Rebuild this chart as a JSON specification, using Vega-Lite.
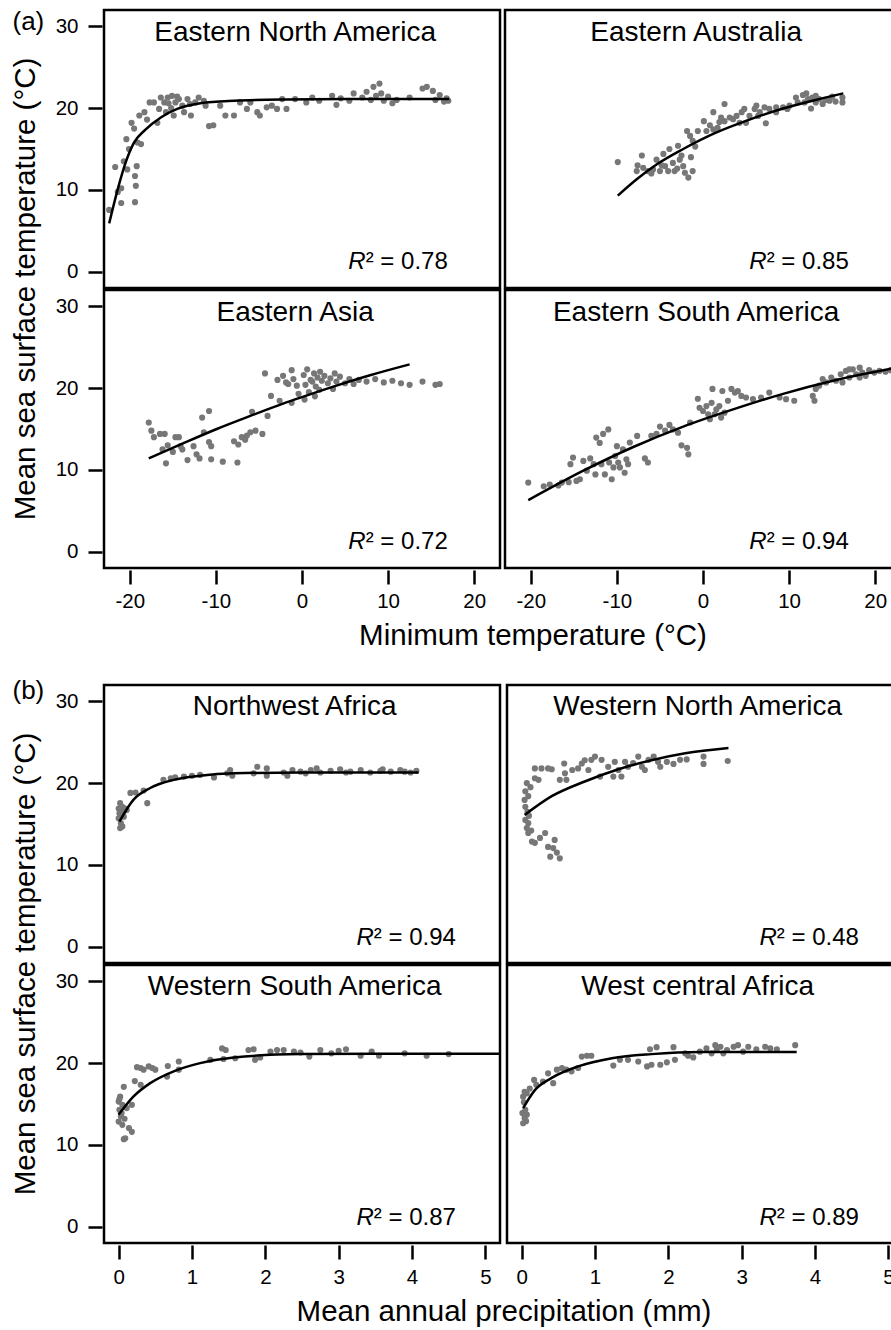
{
"$schema": "https://vega.github.io/schema/vega-lite/v6.json",
"background": "white",
"padding": {"left": 10, "top": 8, "right": 0, "bottom": 0},
"spacing": 27,
"title": {"text": "(a)", "anchor": "start", "frame": "bounds", "orient": "top", "offset": -26, "dx": 2, "fontSize": 26},
"config": {
 "font": "Liberation Sans",
 "view": {"stroke": "#000", "strokeWidth": 2.5},
 "axis": {"domain": false, "grid": false, "tickSize": 14, "tickWidth": 2.5, "tickColor": "#000", "labelFontSize": 20.5, "labelColor": "#000", "labelFont": "Liberation Sans", "labelFlush": false, "labelOverlap": false},
 "header": {"labels": false, "titleFontSize": 29.5, "titleFontWeight": "normal", "titleColor": "#000", "titleFont": "Liberation Sans"},
 "title": {"fontSize": 26, "fontWeight": "normal", "color": "#000", "font": "Liberation Sans"}
},
"datasets": {
 "panels": [
  {"g":"ENA","r":1,"c":1,"t":"Eastern North America","s":"² = 0.78"},
  {"g":"EAu","r":1,"c":2,"t":"Eastern Australia","s":"² = 0.85"},
  {"g":"EAs","r":2,"c":1,"t":"Eastern Asia","s":"² = 0.72"},
  {"g":"ESA","r":2,"c":2,"t":"Eastern South America","s":"² = 0.94"},
  {"g":"NWA","r":1,"c":1,"t":"Northwest Africa","s":"² = 0.94"},
  {"g":"WNA","r":1,"c":2,"t":"Western North America","s":"² = 0.48"},
  {"g":"WSA","r":2,"c":1,"t":"Western South America","s":"² = 0.87"},
  {"g":"WCA","r":2,"c":2,"t":"West central Africa","s":"² = 0.89"}
 ],
 "a": [
  {"g":"ENA","k":"l"},{"g":"EAu","k":"l"},{"g":"EAs","k":"l"},{"g":"ESA","k":"l"},
  {"g":"ENA","k":"f","x":-22.4,"y":5.9},{"g":"ENA","k":"f","x":-21.4,"y":10.1},{"g":"ENA","k":"f","x":-20.5,"y":13.3},{"g":"ENA","k":"f","x":-19.5,"y":15.8},{"g":"ENA","k":"f","x":-18.15,"y":17.4},{"g":"ENA","k":"f","x":-16.4,"y":18.85},{"g":"ENA","k":"f","x":-14.5,"y":19.9},{"g":"ENA","k":"f","x":-11.8,"y":20.6},{"g":"ENA","k":"f","x":-7.9,"y":20.9},{"g":"ENA","k":"f","x":-2,"y":21.05},{"g":"ENA","k":"f","x":5,"y":21.1},{"g":"ENA","k":"f","x":17.1,"y":21.1},
  {"g":"EAu","k":"f","x":-9.9,"y":9.3},{"g":"EAu","k":"f","x":-7.7,"y":11.3},{"g":"EAu","k":"f","x":-5.4,"y":13.1},{"g":"EAu","k":"f","x":-2.3,"y":15.0},{"g":"EAu","k":"f","x":1.5,"y":17.0},{"g":"EAu","k":"f","x":5.4,"y":18.6},{"g":"EAu","k":"f","x":9.3,"y":19.95},{"g":"EAu","k":"f","x":13.1,"y":21.0},{"g":"EAu","k":"f","x":16.3,"y":21.8},
  {"g":"EAs","k":"f","x":-17.8,"y":11.4},{"g":"EAs","k":"f","x":-13.7,"y":13.3},{"g":"EAs","k":"f","x":-9.9,"y":15.0},{"g":"EAs","k":"f","x":-6.0,"y":16.6},{"g":"EAs","k":"f","x":-2.2,"y":18.1},{"g":"EAs","k":"f","x":0,"y":18.9},{"g":"EAs","k":"f","x":4,"y":20.3},{"g":"EAs","k":"f","x":8,"y":21.6},{"g":"EAs","k":"f","x":12.5,"y":22.9},
  {"g":"ESA","k":"f","x":-20.3,"y":6.3},{"g":"ESA","k":"f","x":-13.9,"y":9.9},{"g":"ESA","k":"f","x":-8.1,"y":12.8},{"g":"ESA","k":"f","x":-2.3,"y":15.3},{"g":"ESA","k":"f","x":3.5,"y":17.4},{"g":"ESA","k":"f","x":9.3,"y":19.3},{"g":"ESA","k":"f","x":15.1,"y":20.9},{"g":"ESA","k":"f","x":22.8,"y":22.55},
  {"g":"ENA","k":"p","x":-22.4,"y":7.55},{"g":"ENA","k":"p","x":-21.7,"y":12.8},{"g":"ENA","k":"p","x":-21.4,"y":9.75},{"g":"ENA","k":"p","x":-21.0,"y":8.4},{"g":"ENA","k":"p","x":-21.0,"y":10.2},{"g":"ENA","k":"p","x":-20.7,"y":13.5},{"g":"ENA","k":"p","x":-20.4,"y":16.2},{"g":"ENA","k":"p","x":-20.1,"y":15.0},{"g":"ENA","k":"p","x":-20.3,"y":12.5},{"g":"ENA","k":"p","x":-19.8,"y":18.2},{"g":"ENA","k":"p","x":-19.5,"y":17.5},{"g":"ENA","k":"p","x":-19.4,"y":8.5},{"g":"ENA","k":"p","x":-19.4,"y":11.7},{"g":"ENA","k":"p","x":-19.3,"y":10.5},{"g":"ENA","k":"p","x":-19.2,"y":12.9},{"g":"ENA","k":"p","x":-19.1,"y":15.8},{"g":"ENA","k":"p","x":-18.7,"y":15.6},{"g":"ENA","k":"p","x":-18.9,"y":19.1},{"g":"ENA","k":"p","x":-18.3,"y":19.5},{"g":"ENA","k":"p","x":-18.0,"y":18.6},{"g":"ENA","k":"p","x":-17.7,"y":20.7},{"g":"ENA","k":"p","x":-17.2,"y":20.7},{"g":"ENA","k":"p","x":-16.8,"y":18.2},{"g":"ENA","k":"p","x":-16.6,"y":19.9},{"g":"ENA","k":"p","x":-16.4,"y":21.3},{"g":"ENA","k":"p","x":-16.0,"y":20.7},{"g":"ENA","k":"p","x":-15.8,"y":19.5},{"g":"ENA","k":"p","x":-15.6,"y":21.3},{"g":"ENA","k":"p","x":-15.5,"y":20.6},{"g":"ENA","k":"p","x":-15.1,"y":21.5},{"g":"ENA","k":"p","x":-15.2,"y":20.0},{"g":"ENA","k":"p","x":-14.9,"y":19.1},{"g":"ENA","k":"p","x":-14.7,"y":20.7},{"g":"ENA","k":"p","x":-14.5,"y":21.4},{"g":"ENA","k":"p","x":-14.3,"y":21.1},{"g":"ENA","k":"p","x":-13.9,"y":20.3},{"g":"ENA","k":"p","x":-13.7,"y":19.5},{"g":"ENA","k":"p","x":-13.3,"y":21.1},{"g":"ENA","k":"p","x":-13.0,"y":20.5},{"g":"ENA","k":"p","x":-12.9,"y":19.1},{"g":"ENA","k":"p","x":-12.4,"y":20.7},{"g":"ENA","k":"p","x":-12.0,"y":21.3},{"g":"ENA","k":"p","x":-11.4,"y":20.9},{"g":"ENA","k":"p","x":-11.2,"y":20.3},{"g":"ENA","k":"p","x":-10.8,"y":17.8},{"g":"ENA","k":"p","x":-10.3,"y":17.9},{"g":"ENA","k":"p","x":-9.5,"y":20.3},{"g":"ENA","k":"p","x":-8.9,"y":19.1},{"g":"ENA","k":"p","x":-7.9,"y":19.1},{"g":"ENA","k":"p","x":-7.2,"y":20.7},{"g":"ENA","k":"p","x":-6.4,"y":19.9},{"g":"ENA","k":"p","x":-6.0,"y":20.7},{"g":"ENA","k":"p","x":-5.2,"y":19.5},{"g":"ENA","k":"p","x":-4.9,"y":19.1},{"g":"ENA","k":"p","x":-4.1,"y":20.1},{"g":"ENA","k":"p","x":-3.5,"y":20.3},{"g":"ENA","k":"p","x":-2.9,"y":19.9},{"g":"ENA","k":"p","x":-2.3,"y":21.1},{"g":"ENA","k":"p","x":-1.8,"y":19.9},{"g":"ENA","k":"p","x":-0.8,"y":21.1},{"g":"ENA","k":"p","x":0.5,"y":20.7},{"g":"ENA","k":"p","x":1.2,"y":21.3},{"g":"ENA","k":"p","x":2.0,"y":20.9},{"g":"ENA","k":"p","x":3.5,"y":21.5},{"g":"ENA","k":"p","x":4.0,"y":20.4},{"g":"ENA","k":"p","x":4.5,"y":21.2},{"g":"ENA","k":"p","x":5.5,"y":20.9},{"g":"ENA","k":"p","x":6.0,"y":21.8},{"g":"ENA","k":"p","x":7.0,"y":21.3},{"g":"ENA","k":"p","x":7.5,"y":22.0},{"g":"ENA","k":"p","x":8.0,"y":21.0},{"g":"ENA","k":"p","x":8.3,"y":22.6},{"g":"ENA","k":"p","x":8.6,"y":21.5},{"g":"ENA","k":"p","x":9.0,"y":23.0},{"g":"ENA","k":"p","x":9.2,"y":21.8},{"g":"ENA","k":"p","x":9.5,"y":20.9},{"g":"ENA","k":"p","x":10.0,"y":21.4},{"g":"ENA","k":"p","x":10.5,"y":20.6},{"g":"ENA","k":"p","x":11.0,"y":21.0},{"g":"ENA","k":"p","x":12.5,"y":21.3},{"g":"ENA","k":"p","x":14.0,"y":22.4},{"g":"ENA","k":"p","x":14.5,"y":22.6},{"g":"ENA","k":"p","x":15.2,"y":22.1},{"g":"ENA","k":"p","x":15.5,"y":21.0},{"g":"ENA","k":"p","x":16.0,"y":21.6},{"g":"ENA","k":"p","x":16.5,"y":20.8},{"g":"ENA","k":"p","x":16.8,"y":21.2},{"g":"ENA","k":"p","x":17.0,"y":20.9},
  {"g":"EAu","k":"p","x":-9.9,"y":13.4},{"g":"EAu","k":"p","x":-7.1,"y":14.2},{"g":"EAu","k":"p","x":-7.6,"y":13.0},{"g":"EAu","k":"p","x":-7.7,"y":12.3},{"g":"EAu","k":"p","x":-6.95,"y":12.7},{"g":"EAu","k":"p","x":-6.4,"y":12.3},{"g":"EAu","k":"p","x":-5.8,"y":12.5},{"g":"EAu","k":"p","x":-5.4,"y":13.7},{"g":"EAu","k":"p","x":-5.0,"y":12.3},{"g":"EAu","k":"p","x":-4.6,"y":14.4},{"g":"EAu","k":"p","x":-4.4,"y":12.9},{"g":"EAu","k":"p","x":-4.05,"y":12.3},{"g":"EAu","k":"p","x":-3.9,"y":15.0},{"g":"EAu","k":"p","x":-3.5,"y":13.3},{"g":"EAu","k":"p","x":-3.3,"y":12.3},{"g":"EAu","k":"p","x":-2.9,"y":15.4},{"g":"EAu","k":"p","x":-2.7,"y":13.7},{"g":"EAu","k":"p","x":-2.3,"y":12.9},{"g":"EAu","k":"p","x":-2.1,"y":12.1},{"g":"EAu","k":"p","x":-1.7,"y":11.5},{"g":"EAu","k":"p","x":-1.4,"y":14.0},{"g":"EAu","k":"p","x":-1.2,"y":12.3},{"g":"EAu","k":"p","x":-1.85,"y":17.2},{"g":"EAu","k":"p","x":-1.5,"y":16.6},{"g":"EAu","k":"p","x":-1.2,"y":16.0},{"g":"EAu","k":"p","x":-0.6,"y":17.2},{"g":"EAu","k":"p","x":0.1,"y":18.4},{"g":"EAu","k":"p","x":0.4,"y":17.2},{"g":"EAu","k":"p","x":1.2,"y":19.5},{"g":"EAu","k":"p","x":1.2,"y":17.4},{"g":"EAu","k":"p","x":1.7,"y":17.6},{"g":"EAu","k":"p","x":2.1,"y":18.85},{"g":"EAu","k":"p","x":2.5,"y":20.5},{"g":"EAu","k":"p","x":2.5,"y":18.4},{"g":"EAu","k":"p","x":3.1,"y":18.85},{"g":"EAu","k":"p","x":3.5,"y":18.65},{"g":"EAu","k":"p","x":3.9,"y":19.05},{"g":"EAu","k":"p","x":4.25,"y":18.2},{"g":"EAu","k":"p","x":4.8,"y":19.9},{"g":"EAu","k":"p","x":5.0,"y":18.2},{"g":"EAu","k":"p","x":5.4,"y":19.05},{"g":"EAu","k":"p","x":6.0,"y":19.9},{"g":"EAu","k":"p","x":6.2,"y":20.3},{"g":"EAu","k":"p","x":6.6,"y":19.5},{"g":"EAu","k":"p","x":7.15,"y":20.1},{"g":"EAu","k":"p","x":7.3,"y":18.15},{"g":"EAu","k":"p","x":7.7,"y":19.9},{"g":"EAu","k":"p","x":8.5,"y":20.1},{"g":"EAu","k":"p","x":9.3,"y":20.1},{"g":"EAu","k":"p","x":10.05,"y":20.3},{"g":"EAu","k":"p","x":10.8,"y":21.3},{"g":"EAu","k":"p","x":11.0,"y":20.7},{"g":"EAu","k":"p","x":11.6,"y":21.6},{"g":"EAu","k":"p","x":11.8,"y":20.7},{"g":"EAu","k":"p","x":12.2,"y":21.1},{"g":"EAu","k":"p","x":12.55,"y":19.95},{"g":"EAu","k":"p","x":12.7,"y":21.3},{"g":"EAu","k":"p","x":13.1,"y":20.7},{"g":"EAu","k":"p","x":13.5,"y":21.1},{"g":"EAu","k":"p","x":13.9,"y":20.5},{"g":"EAu","k":"p","x":14.7,"y":20.9},{"g":"EAu","k":"p","x":15.4,"y":20.8},{"g":"EAu","k":"p","x":16.2,"y":20.7},{"g":"EAu","k":"p","x":16.2,"y":21.3},{"g":"EAu","k":"p","x":13.1,"y":21.5},{"g":"EAu","k":"p","x":8.5,"y":19.5},{"g":"EAu","k":"p","x":6.4,"y":19.05},{"g":"EAu","k":"p","x":-6.0,"y":12.0},{"g":"EAu","k":"p","x":-4.8,"y":13.0},{"g":"EAu","k":"p","x":-3.0,"y":12.6},{"g":"EAu","k":"p","x":-2.5,"y":14.2},{"g":"EAu","k":"p","x":-0.9,"y":15.3},{"g":"EAu","k":"p","x":0.8,"y":17.9},{"g":"EAu","k":"p","x":1.9,"y":18.3},{"g":"EAu","k":"p","x":4.5,"y":19.5},{"g":"EAu","k":"p","x":9.8,"y":19.9},{"g":"EAu","k":"p","x":12.0,"y":21.8},{"g":"EAu","k":"p","x":14.2,"y":21.0},{"g":"EAu","k":"p","x":15.0,"y":21.4},
  {"g":"EAs","k":"p","x":-17.8,"y":15.8},{"g":"EAs","k":"p","x":-17.5,"y":14.8},{"g":"EAs","k":"p","x":-17.2,"y":14.0},{"g":"EAs","k":"p","x":-16.5,"y":14.4},{"g":"EAs","k":"p","x":-15.95,"y":14.4},{"g":"EAs","k":"p","x":-16.2,"y":12.5},{"g":"EAs","k":"p","x":-15.8,"y":10.8},{"g":"EAs","k":"p","x":-15.6,"y":13.0},{"g":"EAs","k":"p","x":-15.0,"y":12.2},{"g":"EAs","k":"p","x":-14.7,"y":14.0},{"g":"EAs","k":"p","x":-14.3,"y":14.0},{"g":"EAs","k":"p","x":-14.1,"y":12.9},{"g":"EAs","k":"p","x":-13.9,"y":12.5},{"g":"EAs","k":"p","x":-13.3,"y":11.2},{"g":"EAs","k":"p","x":-12.6,"y":12.9},{"g":"EAs","k":"p","x":-12.25,"y":11.9},{"g":"EAs","k":"p","x":-11.9,"y":11.4},{"g":"EAs","k":"p","x":-11.6,"y":16.4},{"g":"EAs","k":"p","x":-11.4,"y":14.6},{"g":"EAs","k":"p","x":-10.8,"y":17.2},{"g":"EAs","k":"p","x":-10.8,"y":13.4},{"g":"EAs","k":"p","x":-10.55,"y":11.3},{"g":"EAs","k":"p","x":-10.55,"y":12.9},{"g":"EAs","k":"p","x":-9.2,"y":11.0},{"g":"EAs","k":"p","x":-7.9,"y":13.5},{"g":"EAs","k":"p","x":-7.5,"y":10.9},{"g":"EAs","k":"p","x":-7.4,"y":13.1},{"g":"EAs","k":"p","x":-7.0,"y":14.0},{"g":"EAs","k":"p","x":-6.6,"y":13.7},{"g":"EAs","k":"p","x":-6.4,"y":14.2},{"g":"EAs","k":"p","x":-6.0,"y":14.6},{"g":"EAs","k":"p","x":-5.8,"y":17.1},{"g":"EAs","k":"p","x":-5.4,"y":14.8},{"g":"EAs","k":"p","x":-4.6,"y":14.4},{"g":"EAs","k":"p","x":-4.3,"y":21.8},{"g":"EAs","k":"p","x":-4.0,"y":16.6},{"g":"EAs","k":"p","x":-3.6,"y":19.05},{"g":"EAs","k":"p","x":-2.85,"y":21.0},{"g":"EAs","k":"p","x":-2.6,"y":18.45},{"g":"EAs","k":"p","x":-2.2,"y":21.5},{"g":"EAs","k":"p","x":-1.85,"y":20.7},{"g":"EAs","k":"p","x":-1.6,"y":20.5},{"g":"EAs","k":"p","x":-1.2,"y":22.2},{"g":"EAs","k":"p","x":-1.2,"y":18.2},{"g":"EAs","k":"p","x":-1.0,"y":21.1},{"g":"EAs","k":"p","x":-0.6,"y":20.3},{"g":"EAs","k":"p","x":-0.4,"y":19.3},{"g":"EAs","k":"p","x":0.2,"y":21.6},{"g":"EAs","k":"p","x":0.4,"y":20.4},{"g":"EAs","k":"p","x":0.6,"y":22.3},{"g":"EAs","k":"p","x":0.8,"y":19.5},{"g":"EAs","k":"p","x":1.0,"y":21.0},{"g":"EAs","k":"p","x":1.2,"y":20.8},{"g":"EAs","k":"p","x":1.4,"y":21.8},{"g":"EAs","k":"p","x":1.6,"y":20.2},{"g":"EAs","k":"p","x":1.8,"y":21.3},{"g":"EAs","k":"p","x":2.0,"y":19.8},{"g":"EAs","k":"p","x":2.1,"y":22.0},{"g":"EAs","k":"p","x":2.3,"y":20.9},{"g":"EAs","k":"p","x":2.6,"y":21.5},{"g":"EAs","k":"p","x":3.0,"y":20.6},{"g":"EAs","k":"p","x":3.3,"y":21.2},{"g":"EAs","k":"p","x":3.6,"y":19.9},{"g":"EAs","k":"p","x":3.8,"y":21.8},{"g":"EAs","k":"p","x":4.0,"y":20.8},{"g":"EAs","k":"p","x":4.4,"y":21.4},{"g":"EAs","k":"p","x":5.0,"y":20.6},{"g":"EAs","k":"p","x":5.5,"y":21.1},{"g":"EAs","k":"p","x":6.0,"y":20.5},{"g":"EAs","k":"p","x":6.6,"y":21.0},{"g":"EAs","k":"p","x":7.5,"y":20.8},{"g":"EAs","k":"p","x":8.5,"y":21.1},{"g":"EAs","k":"p","x":9.5,"y":20.7},{"g":"EAs","k":"p","x":10.5,"y":20.9},{"g":"EAs","k":"p","x":11.5,"y":20.6},{"g":"EAs","k":"p","x":12.5,"y":20.4},{"g":"EAs","k":"p","x":0.3,"y":18.6},{"g":"EAs","k":"p","x":1.5,"y":19.0},{"g":"EAs","k":"p","x":14.0,"y":20.8},{"g":"EAs","k":"p","x":15.5,"y":20.4},{"g":"EAs","k":"p","x":16.0,"y":20.5},
  {"g":"ESA","k":"p","x":-20.3,"y":8.45},{"g":"ESA","k":"p","x":-18.5,"y":8.0},{"g":"ESA","k":"p","x":-17.8,"y":8.2},{"g":"ESA","k":"p","x":-16.8,"y":8.1},{"g":"ESA","k":"p","x":-16.4,"y":8.45},{"g":"ESA","k":"p","x":-15.6,"y":8.5},{"g":"ESA","k":"p","x":-15.4,"y":10.7},{"g":"ESA","k":"p","x":-15.1,"y":11.5},{"g":"ESA","k":"p","x":-14.7,"y":8.65},{"g":"ESA","k":"p","x":-14.3,"y":8.85},{"g":"ESA","k":"p","x":-13.9,"y":11.1},{"g":"ESA","k":"p","x":-13.5,"y":9.9},{"g":"ESA","k":"p","x":-13.1,"y":11.4},{"g":"ESA","k":"p","x":-12.7,"y":10.7},{"g":"ESA","k":"p","x":-12.5,"y":9.45},{"g":"ESA","k":"p","x":-12.4,"y":13.95},{"g":"ESA","k":"p","x":-12.0,"y":13.3},{"g":"ESA","k":"p","x":-11.8,"y":10.7},{"g":"ESA","k":"p","x":-11.6,"y":14.4},{"g":"ESA","k":"p","x":-11.4,"y":9.45},{"g":"ESA","k":"p","x":-11.0,"y":14.95},{"g":"ESA","k":"p","x":-10.9,"y":10.9},{"g":"ESA","k":"p","x":-10.6,"y":8.85},{"g":"ESA","k":"p","x":-10.4,"y":10.3},{"g":"ESA","k":"p","x":-10.2,"y":11.7},{"g":"ESA","k":"p","x":-10.0,"y":12.9},{"g":"ESA","k":"p","x":-9.85,"y":10.9},{"g":"ESA","k":"p","x":-9.65,"y":10.3},{"g":"ESA","k":"p","x":-9.3,"y":12.5},{"g":"ESA","k":"p","x":-9.1,"y":9.65},{"g":"ESA","k":"p","x":-8.9,"y":11.3},{"g":"ESA","k":"p","x":-8.7,"y":10.7},{"g":"ESA","k":"p","x":-8.5,"y":13.35},{"g":"ESA","k":"p","x":-7.65,"y":14.15},{"g":"ESA","k":"p","x":-6.75,"y":11.4},{"g":"ESA","k":"p","x":-6.4,"y":10.9},{"g":"ESA","k":"p","x":-6.0,"y":14.15},{"g":"ESA","k":"p","x":-5.4,"y":14.4},{"g":"ESA","k":"p","x":-5.0,"y":15.3},{"g":"ESA","k":"p","x":-4.4,"y":14.8},{"g":"ESA","k":"p","x":-3.9,"y":15.5},{"g":"ESA","k":"p","x":-3.5,"y":14.95},{"g":"ESA","k":"p","x":-2.9,"y":14.55},{"g":"ESA","k":"p","x":-2.5,"y":13.0},{"g":"ESA","k":"p","x":-1.85,"y":12.7},{"g":"ESA","k":"p","x":-1.7,"y":11.9},{"g":"ESA","k":"p","x":-1.5,"y":15.8},{"g":"ESA","k":"p","x":-0.6,"y":18.7},{"g":"ESA","k":"p","x":-0.4,"y":17.6},{"g":"ESA","k":"p","x":0.0,"y":17.2},{"g":"ESA","k":"p","x":0.4,"y":17.8},{"g":"ESA","k":"p","x":0.6,"y":16.8},{"g":"ESA","k":"p","x":0.8,"y":16.2},{"g":"ESA","k":"p","x":1.0,"y":18.2},{"g":"ESA","k":"p","x":1.1,"y":19.9},{"g":"ESA","k":"p","x":1.35,"y":16.8},{"g":"ESA","k":"p","x":1.55,"y":17.4},{"g":"ESA","k":"p","x":1.9,"y":17.8},{"g":"ESA","k":"p","x":2.1,"y":16.4},{"g":"ESA","k":"p","x":2.25,"y":19.65},{"g":"ESA","k":"p","x":2.5,"y":17.0},{"g":"ESA","k":"p","x":2.9,"y":18.45},{"g":"ESA","k":"p","x":3.3,"y":19.9},{"g":"ESA","k":"p","x":3.7,"y":19.45},{"g":"ESA","k":"p","x":4.05,"y":19.65},{"g":"ESA","k":"p","x":4.45,"y":19.05},{"g":"ESA","k":"p","x":5.0,"y":18.85},{"g":"ESA","k":"p","x":5.8,"y":18.65},{"g":"ESA","k":"p","x":6.75,"y":18.85},{"g":"ESA","k":"p","x":7.7,"y":19.45},{"g":"ESA","k":"p","x":8.9,"y":18.85},{"g":"ESA","k":"p","x":9.65,"y":18.65},{"g":"ESA","k":"p","x":10.6,"y":18.45},{"g":"ESA","k":"p","x":12.75,"y":19.05},{"g":"ESA","k":"p","x":12.95,"y":18.45},{"g":"ESA","k":"p","x":13.1,"y":19.9},{"g":"ESA","k":"p","x":13.5,"y":20.3},{"g":"ESA","k":"p","x":13.9,"y":21.1},{"g":"ESA","k":"p","x":14.3,"y":20.7},{"g":"ESA","k":"p","x":14.9,"y":21.3},{"g":"ESA","k":"p","x":15.45,"y":20.9},{"g":"ESA","k":"p","x":16.0,"y":21.7},{"g":"ESA","k":"p","x":16.2,"y":20.7},{"g":"ESA","k":"p","x":16.6,"y":22.1},{"g":"ESA","k":"p","x":17.0,"y":21.3},{"g":"ESA","k":"p","x":17.4,"y":22.3},{"g":"ESA","k":"p","x":17.8,"y":21.7},{"g":"ESA","k":"p","x":18.2,"y":22.5},{"g":"ESA","k":"p","x":18.5,"y":21.9},{"g":"ESA","k":"p","x":18.9,"y":21.5},{"g":"ESA","k":"p","x":19.3,"y":22.2},{"g":"ESA","k":"p","x":19.9,"y":21.9},{"g":"ESA","k":"p","x":20.5,"y":22.1},{"g":"ESA","k":"p","x":21.2,"y":22.0},{"g":"ESA","k":"p","x":21.8,"y":22.2},{"g":"ESA","k":"p","x":17.0,"y":22.3},{"g":"ESA","k":"p","x":18.2,"y":21.3}
 ],
 "b": [
  {"g":"NWA","k":"l"},{"g":"WNA","k":"l"},{"g":"WSA","k":"l"},{"g":"WCA","k":"l"},
  {"g":"NWA","k":"f","x":0.01,"y":15.3},{"g":"NWA","k":"f","x":0.2,"y":17.95},{"g":"NWA","k":"f","x":0.43,"y":19.4},{"g":"NWA","k":"f","x":0.75,"y":20.4},{"g":"NWA","k":"f","x":1.11,"y":20.9},{"g":"NWA","k":"f","x":1.57,"y":21.2},{"g":"NWA","k":"f","x":2.5,"y":21.3},{"g":"NWA","k":"f","x":4.09,"y":21.3},
  {"g":"WNA","k":"f","x":0.04,"y":16.1},{"g":"WNA","k":"f","x":0.41,"y":18.4},{"g":"WNA","k":"f","x":0.86,"y":20.2},{"g":"WNA","k":"f","x":1.32,"y":21.7},{"g":"WNA","k":"f","x":1.77,"y":22.8},{"g":"WNA","k":"f","x":2.23,"y":23.65},{"g":"WNA","k":"f","x":2.82,"y":24.3},
  {"g":"WSA","k":"f","x":0,"y":13.7},{"g":"WSA","k":"f","x":0.2,"y":15.9},{"g":"WSA","k":"f","x":0.43,"y":17.55},{"g":"WSA","k":"f","x":0.75,"y":19.0},{"g":"WSA","k":"f","x":1.11,"y":20.0},{"g":"WSA","k":"f","x":1.57,"y":20.7},{"g":"WSA","k":"f","x":2.48,"y":21.1},{"g":"WSA","k":"f","x":3.5,"y":21.15},{"g":"WSA","k":"f","x":5.2,"y":21.15},
  {"g":"WCA","k":"f","x":0.02,"y":14.5},{"g":"WCA","k":"f","x":0.18,"y":16.7},{"g":"WCA","k":"f","x":0.41,"y":18.2},{"g":"WCA","k":"f","x":0.77,"y":19.6},{"g":"WCA","k":"f","x":1.23,"y":20.6},{"g":"WCA","k":"f","x":1.77,"y":21.1},{"g":"WCA","k":"f","x":2.46,"y":21.35},{"g":"WCA","k":"f","x":3.75,"y":21.35},
  {"g":"NWA","k":"p","x":0.02,"y":17.55},{"g":"NWA","k":"p","x":0.0,"y":16.9},{"g":"NWA","k":"p","x":0.05,"y":17.1},{"g":"NWA","k":"p","x":0.01,"y":16.3},{"g":"NWA","k":"p","x":0.06,"y":16.5},{"g":"NWA","k":"p","x":0.0,"y":15.7},{"g":"NWA","k":"p","x":0.03,"y":15.1},{"g":"NWA","k":"p","x":0.02,"y":14.5},{"g":"NWA","k":"p","x":0.05,"y":14.7},{"g":"NWA","k":"p","x":0.07,"y":15.9},{"g":"NWA","k":"p","x":0.09,"y":16.9},{"g":"NWA","k":"p","x":0.11,"y":16.7},{"g":"NWA","k":"p","x":0.16,"y":18.8},{"g":"NWA","k":"p","x":0.23,"y":18.85},{"g":"NWA","k":"p","x":0.34,"y":19.1},{"g":"NWA","k":"p","x":0.39,"y":17.55},{"g":"NWA","k":"p","x":0.61,"y":20.4},{"g":"NWA","k":"p","x":0.71,"y":20.6},{"g":"NWA","k":"p","x":0.77,"y":20.7},{"g":"NWA","k":"p","x":0.89,"y":20.8},{"g":"NWA","k":"p","x":1.0,"y":20.9},{"g":"NWA","k":"p","x":1.11,"y":21.0},{"g":"NWA","k":"p","x":1.3,"y":20.7},{"g":"NWA","k":"p","x":1.48,"y":21.2},{"g":"NWA","k":"p","x":1.52,"y":21.6},{"g":"NWA","k":"p","x":1.55,"y":20.9},{"g":"NWA","k":"p","x":1.84,"y":21.2},{"g":"NWA","k":"p","x":1.89,"y":22.0},{"g":"NWA","k":"p","x":2.02,"y":21.8},{"g":"NWA","k":"p","x":2.02,"y":20.9},{"g":"NWA","k":"p","x":2.25,"y":21.3},{"g":"NWA","k":"p","x":2.3,"y":20.9},{"g":"NWA","k":"p","x":2.37,"y":21.6},{"g":"NWA","k":"p","x":2.48,"y":21.4},{"g":"NWA","k":"p","x":2.62,"y":21.6},{"g":"NWA","k":"p","x":2.75,"y":21.3},{"g":"NWA","k":"p","x":2.89,"y":21.5},{"g":"NWA","k":"p","x":3.02,"y":21.7},{"g":"NWA","k":"p","x":3.16,"y":21.4},{"g":"NWA","k":"p","x":3.3,"y":21.6},{"g":"NWA","k":"p","x":3.43,"y":21.3},{"g":"NWA","k":"p","x":3.57,"y":21.5},{"g":"NWA","k":"p","x":3.71,"y":21.4},{"g":"NWA","k":"p","x":3.84,"y":21.6},{"g":"NWA","k":"p","x":3.98,"y":21.3},{"g":"NWA","k":"p","x":4.06,"y":21.5},{"g":"NWA","k":"p","x":2.55,"y":21.2},{"g":"NWA","k":"p","x":3.1,"y":21.3},{"g":"NWA","k":"p","x":3.6,"y":21.7},{"g":"NWA","k":"p","x":2.7,"y":21.8},{"g":"NWA","k":"p","x":3.9,"y":21.4},
  {"g":"WNA","k":"p","x":0.07,"y":20.0},{"g":"WNA","k":"p","x":0.05,"y":19.0},{"g":"WNA","k":"p","x":0.04,"y":17.95},{"g":"WNA","k":"p","x":0.09,"y":18.4},{"g":"WNA","k":"p","x":0.05,"y":17.1},{"g":"WNA","k":"p","x":0.08,"y":16.5},{"g":"WNA","k":"p","x":0.05,"y":15.5},{"g":"WNA","k":"p","x":0.09,"y":15.1},{"g":"WNA","k":"p","x":0.07,"y":14.5},{"g":"WNA","k":"p","x":0.09,"y":13.9},{"g":"WNA","k":"p","x":0.14,"y":12.85},{"g":"WNA","k":"p","x":0.18,"y":12.7},{"g":"WNA","k":"p","x":0.25,"y":13.3},{"g":"WNA","k":"p","x":0.32,"y":13.9},{"g":"WNA","k":"p","x":0.36,"y":12.2},{"g":"WNA","k":"p","x":0.45,"y":13.05},{"g":"WNA","k":"p","x":0.43,"y":12.05},{"g":"WNA","k":"p","x":0.39,"y":11.0},{"g":"WNA","k":"p","x":0.48,"y":11.5},{"g":"WNA","k":"p","x":0.52,"y":10.8},{"g":"WNA","k":"p","x":0.18,"y":20.6},{"g":"WNA","k":"p","x":0.23,"y":20.4},{"g":"WNA","k":"p","x":0.18,"y":21.8},{"g":"WNA","k":"p","x":0.27,"y":21.8},{"g":"WNA","k":"p","x":0.36,"y":21.8},{"g":"WNA","k":"p","x":0.41,"y":21.7},{"g":"WNA","k":"p","x":0.52,"y":20.4},{"g":"WNA","k":"p","x":0.59,"y":21.2},{"g":"WNA","k":"p","x":0.61,"y":20.4},{"g":"WNA","k":"p","x":0.58,"y":22.4},{"g":"WNA","k":"p","x":0.69,"y":21.6},{"g":"WNA","k":"p","x":0.82,"y":22.4},{"g":"WNA","k":"p","x":0.86,"y":22.8},{"g":"WNA","k":"p","x":0.91,"y":21.6},{"g":"WNA","k":"p","x":1.0,"y":23.25},{"g":"WNA","k":"p","x":1.07,"y":20.8},{"g":"WNA","k":"p","x":1.09,"y":22.85},{"g":"WNA","k":"p","x":1.18,"y":22.0},{"g":"WNA","k":"p","x":1.27,"y":22.6},{"g":"WNA","k":"p","x":1.25,"y":20.8},{"g":"WNA","k":"p","x":1.36,"y":20.8},{"g":"WNA","k":"p","x":1.41,"y":22.6},{"g":"WNA","k":"p","x":1.45,"y":22.0},{"g":"WNA","k":"p","x":1.52,"y":22.45},{"g":"WNA","k":"p","x":1.59,"y":23.25},{"g":"WNA","k":"p","x":1.64,"y":22.0},{"g":"WNA","k":"p","x":1.68,"y":21.6},{"g":"WNA","k":"p","x":1.73,"y":22.85},{"g":"WNA","k":"p","x":1.8,"y":23.25},{"g":"WNA","k":"p","x":1.86,"y":22.6},{"g":"WNA","k":"p","x":1.89,"y":22.0},{"g":"WNA","k":"p","x":1.98,"y":22.6},{"g":"WNA","k":"p","x":2.07,"y":22.35},{"g":"WNA","k":"p","x":2.16,"y":22.85},{"g":"WNA","k":"p","x":2.25,"y":22.9},{"g":"WNA","k":"p","x":2.48,"y":23.25},{"g":"WNA","k":"p","x":2.48,"y":22.35},{"g":"WNA","k":"p","x":2.81,"y":22.7},{"g":"WNA","k":"p","x":0.77,"y":21.8},{"g":"WNA","k":"p","x":0.95,"y":22.85},{"g":"WNA","k":"p","x":1.32,"y":21.6},{"g":"WNA","k":"p","x":0.12,"y":19.5},{"g":"WNA","k":"p","x":0.1,"y":16.0},{"g":"WNA","k":"p","x":0.13,"y":14.2},
  {"g":"WSA","k":"p","x":0.02,"y":15.9},{"g":"WSA","k":"p","x":0,"y":15.3},{"g":"WSA","k":"p","x":0.05,"y":14.9},{"g":"WSA","k":"p","x":0.01,"y":14.3},{"g":"WSA","k":"p","x":0.03,"y":13.5},{"g":"WSA","k":"p","x":0,"y":12.85},{"g":"WSA","k":"p","x":0.05,"y":12.45},{"g":"WSA","k":"p","x":0.07,"y":17.1},{"g":"WSA","k":"p","x":0.11,"y":14.5},{"g":"WSA","k":"p","x":0.07,"y":10.7},{"g":"WSA","k":"p","x":0.09,"y":10.8},{"g":"WSA","k":"p","x":0.14,"y":12.05},{"g":"WSA","k":"p","x":0.18,"y":11.6},{"g":"WSA","k":"p","x":0.18,"y":14.9},{"g":"WSA","k":"p","x":0.22,"y":17.8},{"g":"WSA","k":"p","x":0.25,"y":19.5},{"g":"WSA","k":"p","x":0.3,"y":19.4},{"g":"WSA","k":"p","x":0.3,"y":17.35},{"g":"WSA","k":"p","x":0.34,"y":19.2},{"g":"WSA","k":"p","x":0.41,"y":19.6},{"g":"WSA","k":"p","x":0.46,"y":19.4},{"g":"WSA","k":"p","x":0.5,"y":19.2},{"g":"WSA","k":"p","x":0.66,"y":18.35},{"g":"WSA","k":"p","x":0.67,"y":19.65},{"g":"WSA","k":"p","x":0.82,"y":19.2},{"g":"WSA","k":"p","x":0.82,"y":20.2},{"g":"WSA","k":"p","x":1.25,"y":20.4},{"g":"WSA","k":"p","x":1.41,"y":21.8},{"g":"WSA","k":"p","x":1.46,"y":21.6},{"g":"WSA","k":"p","x":1.43,"y":20.5},{"g":"WSA","k":"p","x":1.59,"y":20.6},{"g":"WSA","k":"p","x":1.77,"y":21.6},{"g":"WSA","k":"p","x":1.84,"y":21.7},{"g":"WSA","k":"p","x":1.86,"y":20.4},{"g":"WSA","k":"p","x":1.93,"y":20.7},{"g":"WSA","k":"p","x":2.07,"y":21.4},{"g":"WSA","k":"p","x":2.16,"y":21.6},{"g":"WSA","k":"p","x":2.25,"y":21.6},{"g":"WSA","k":"p","x":2.39,"y":21.4},{"g":"WSA","k":"p","x":2.48,"y":21.3},{"g":"WSA","k":"p","x":2.6,"y":20.8},{"g":"WSA","k":"p","x":2.75,"y":21.6},{"g":"WSA","k":"p","x":2.9,"y":21.2},{"g":"WSA","k":"p","x":3.0,"y":21.5},{"g":"WSA","k":"p","x":3.1,"y":21.7},{"g":"WSA","k":"p","x":3.3,"y":20.9},{"g":"WSA","k":"p","x":3.45,"y":21.4},{"g":"WSA","k":"p","x":3.55,"y":20.9},{"g":"WSA","k":"p","x":3.9,"y":21.2},{"g":"WSA","k":"p","x":4.2,"y":20.9},{"g":"WSA","k":"p","x":4.5,"y":21.1},{"g":"WSA","k":"p","x":0.04,"y":13.9},{"g":"WSA","k":"p","x":0.08,"y":13.2},{"g":"WSA","k":"p","x":0.01,"y":15.6},
  {"g":"WCA","k":"p","x":0.02,"y":12.65},{"g":"WCA","k":"p","x":0.04,"y":13.3},{"g":"WCA","k":"p","x":0.01,"y":13.9},{"g":"WCA","k":"p","x":0.05,"y":14.3},{"g":"WCA","k":"p","x":0.07,"y":13.7},{"g":"WCA","k":"p","x":0.02,"y":15.9},{"g":"WCA","k":"p","x":0.04,"y":16.5},{"g":"WCA","k":"p","x":0.07,"y":16.3},{"g":"WCA","k":"p","x":0.11,"y":16.9},{"g":"WCA","k":"p","x":0.17,"y":17.95},{"g":"WCA","k":"p","x":0.2,"y":17.35},{"g":"WCA","k":"p","x":0.29,"y":17.75},{"g":"WCA","k":"p","x":0.36,"y":18.75},{"g":"WCA","k":"p","x":0.43,"y":17.55},{"g":"WCA","k":"p","x":0.48,"y":19.2},{"g":"WCA","k":"p","x":0.55,"y":19.4},{"g":"WCA","k":"p","x":0.61,"y":19.2},{"g":"WCA","k":"p","x":0.68,"y":19.0},{"g":"WCA","k":"p","x":0.77,"y":19.4},{"g":"WCA","k":"p","x":0.82,"y":20.8},{"g":"WCA","k":"p","x":0.89,"y":20.9},{"g":"WCA","k":"p","x":0.95,"y":20.9},{"g":"WCA","k":"p","x":1.25,"y":19.7},{"g":"WCA","k":"p","x":1.34,"y":20.4},{"g":"WCA","k":"p","x":1.45,"y":20.4},{"g":"WCA","k":"p","x":1.59,"y":20.2},{"g":"WCA","k":"p","x":1.71,"y":19.6},{"g":"WCA","k":"p","x":1.75,"y":21.7},{"g":"WCA","k":"p","x":1.77,"y":19.8},{"g":"WCA","k":"p","x":1.84,"y":21.95},{"g":"WCA","k":"p","x":1.89,"y":19.8},{"g":"WCA","k":"p","x":1.98,"y":20.1},{"g":"WCA","k":"p","x":2.07,"y":21.95},{"g":"WCA","k":"p","x":2.09,"y":20.4},{"g":"WCA","k":"p","x":2.23,"y":21.2},{"g":"WCA","k":"p","x":2.27,"y":20.9},{"g":"WCA","k":"p","x":2.34,"y":20.7},{"g":"WCA","k":"p","x":2.43,"y":21.4},{"g":"WCA","k":"p","x":2.52,"y":21.8},{"g":"WCA","k":"p","x":2.59,"y":21.2},{"g":"WCA","k":"p","x":2.64,"y":22.2},{"g":"WCA","k":"p","x":2.66,"y":21.6},{"g":"WCA","k":"p","x":2.71,"y":22.0},{"g":"WCA","k":"p","x":2.75,"y":21.2},{"g":"WCA","k":"p","x":2.8,"y":21.6},{"g":"WCA","k":"p","x":2.89,"y":22.0},{"g":"WCA","k":"p","x":2.95,"y":22.2},{"g":"WCA","k":"p","x":3.02,"y":21.4},{"g":"WCA","k":"p","x":3.09,"y":22.0},{"g":"WCA","k":"p","x":3.2,"y":21.7},{"g":"WCA","k":"p","x":3.32,"y":22.0},{"g":"WCA","k":"p","x":3.39,"y":21.8},{"g":"WCA","k":"p","x":3.48,"y":21.7},{"g":"WCA","k":"p","x":3.73,"y":22.2},{"g":"WCA","k":"p","x":0.03,"y":15.2},{"g":"WCA","k":"p","x":0.06,"y":12.9}
 ]
},
"vconcat": [
 {
  "title": {"text": "Minimum temperature (°C)", "anchor": "middle", "frame": "bounds", "orient": "bottom", "offset": 10, "dx": 75, "fontSize": 29.5},
  "data": {"name": "a"},
  "transform": [{"lookup": "g", "from": {"data": {"name": "panels"}, "key": "g", "fields": ["r", "c", "t", "s"]}}],
  "facet": {
   "row": {"field": "r", "type": "ordinal", "title": "Mean sea surface temperature (°C)", "header": {"labels": false, "titlePadding": 4}},
   "column": {"field": "c", "type": "ordinal", "title": null, "header": {"labels": false, "title": null}}
  },
  "spacing": {"row": -2, "column": -7},
  "spec": {
   "width": 396, "height": 278,
   "layer": [
    {"transform": [{"filter": "datum.k == 'p'"}],
     "mark": {"type": "circle", "size": 38, "color": "#777777", "opacity": 1},
     "encoding": {
      "x": {"field": "x", "type": "quantitative", "scale": {"domain": [-23, 23], "nice": false, "zero": false}, "axis": {"title": null, "values": [-20, -10, 0, 10, 20], "labelExpr": "'' + datum.value", "domain": false, "grid": false, "ticks": true, "tickSize": 14, "tickWidth": 2.5, "tickColor": "#000", "labelFontSize": 20.5, "labelColor": "#000", "labelPadding": 7, "labelFlush": false}},
      "y": {"field": "y", "type": "quantitative", "scale": {"domain": [-2, 32], "nice": false, "zero": false}, "axis": {"title": null, "values": [0, 10, 20, 30], "labelExpr": "'' + datum.value", "domain": false, "grid": false, "ticks": true, "tickSize": 14, "tickWidth": 2.5, "tickColor": "#000", "labelFontSize": 20.5, "labelColor": "#000", "labelPadding": 10, "labelFlush": false}}
     }},
    {"transform": [{"filter": "datum.k == 'f'"}],
     "mark": {"type": "line", "color": "#000", "strokeWidth": 2.5, "interpolate": "monotone"},
     "encoding": {"x": {"field": "x", "type": "quantitative"}, "y": {"field": "y", "type": "quantitative"}}},
    {"transform": [{"filter": "datum.k == 'l'"}],
     "mark": {"type": "text", "fontSize": 28, "align": "center", "baseline": "alphabetic", "color": "#000"},
     "encoding": {"x": {"datum": -0.8, "type": "quantitative"}, "y": {"datum": 28.15, "type": "quantitative"}, "text": {"field": "t"}}},
    {"transform": [{"filter": "datum.k == 'l'"}],
     "mark": {"type": "text", "fontSize": 24, "align": "right", "baseline": "alphabetic", "fontStyle": "italic", "color": "#000", "text": "R"},
     "encoding": {"x": {"datum": 7.4, "type": "quantitative"}, "y": {"datum": 0.3, "type": "quantitative"}}},
    {"transform": [{"filter": "datum.k == 'l'"}],
     "mark": {"type": "text", "fontSize": 24, "align": "left", "baseline": "alphabetic", "color": "#000"},
     "encoding": {"x": {"datum": 7.4, "type": "quantitative"}, "y": {"datum": 0.3, "type": "quantitative"}, "text": {"field": "s"}}}
   ]
  }
 },
 {
  "title": {"text": "(b)", "anchor": "start", "frame": "bounds", "orient": "top", "offset": -20, "dx": 2, "fontSize": 26},
  "data": {"name": "b"},
  "transform": [{"lookup": "g", "from": {"data": {"name": "panels"}, "key": "g", "fields": ["r", "c", "t", "s"]}}],
  "facet": {
   "row": {"field": "r", "type": "ordinal", "title": "Mean sea surface temperature (°C)", "header": {"labels": false, "titlePadding": 4}},
   "column": {"field": "c", "type": "ordinal", "title": "Mean annual precipitation (mm)", "header": {"labels": false, "titleOrient": "bottom", "titlePadding": 0}}
  },
  "spacing": {"row": -2, "column": -7},
  "spec": {
   "width": 396, "height": 278,
   "layer": [
    {"transform": [{"filter": "datum.k == 'p'"}],
     "mark": {"type": "circle", "size": 38, "color": "#777777", "opacity": 1},
     "encoding": {
      "x": {"field": "x", "type": "quantitative", "scale": {"domain": [-0.2, 5.2], "nice": false, "zero": false}, "axis": {"title": null, "values": [0, 1, 2, 3, 4, 5], "labelExpr": "'' + datum.value", "domain": false, "grid": false, "ticks": true, "tickSize": 14, "tickWidth": 2.5, "tickColor": "#000", "labelFontSize": 20.5, "labelColor": "#000", "labelPadding": 8, "labelFlush": false}},
      "y": {"field": "y", "type": "quantitative", "scale": {"domain": [-2, 32], "nice": false, "zero": false}, "axis": {"title": null, "values": [0, 10, 20, 30], "labelExpr": "'' + datum.value", "domain": false, "grid": false, "ticks": true, "tickSize": 14, "tickWidth": 2.5, "tickColor": "#000", "labelFontSize": 20.5, "labelColor": "#000", "labelPadding": 10, "labelFlush": false}}
     }},
    {"transform": [{"filter": "datum.k == 'f'"}],
     "mark": {"type": "line", "color": "#000", "strokeWidth": 2.5, "interpolate": "monotone"},
     "encoding": {"x": {"field": "x", "type": "quantitative"}, "y": {"field": "y", "type": "quantitative"}}},
    {"transform": [{"filter": "datum.k == 'l'"}],
     "mark": {"type": "text", "fontSize": 28, "align": "center", "baseline": "alphabetic", "color": "#000"},
     "encoding": {"x": {"datum": 2.4, "type": "quantitative"}, "y": {"datum": 28.35, "type": "quantitative"}, "text": {"field": "t"}}},
    {"transform": [{"filter": "datum.k == 'l'"}],
     "mark": {"type": "text", "fontSize": 24, "align": "right", "baseline": "alphabetic", "fontStyle": "italic", "color": "#000", "text": "R"},
     "encoding": {"x": {"datum": 3.48, "type": "quantitative"}, "y": {"datum": 0.2, "type": "quantitative"}}},
    {"transform": [{"filter": "datum.k == 'l'"}],
     "mark": {"type": "text", "fontSize": 24, "align": "left", "baseline": "alphabetic", "color": "#000"},
     "encoding": {"x": {"datum": 3.48, "type": "quantitative"}, "y": {"datum": 0.2, "type": "quantitative"}, "text": {"field": "s"}}}
   ]
  }
 }
]
}
